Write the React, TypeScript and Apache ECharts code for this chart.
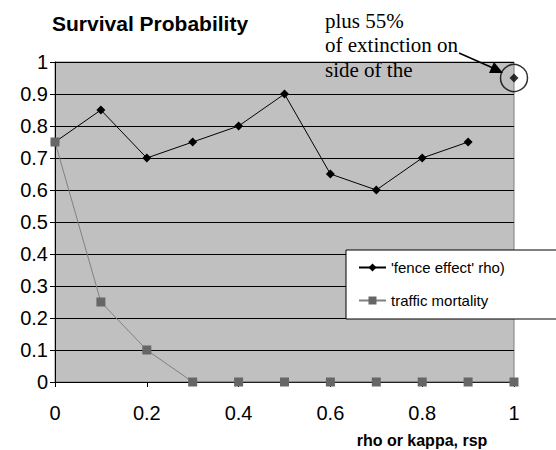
import React, { useEffect, useRef } from "react";
import * as echarts from "echarts";

const rhoValues = [0, 0.1, 0.2, 0.3, 0.4, 0.5, 0.6, 0.7, 0.8, 0.9];
const fenceEffect = [0.75, 0.85, 0.7, 0.75, 0.8, 0.9, 0.65, 0.6, 0.7, 0.75];
const trafficX = [0, 0.1, 0.2, 0.3, 0.4, 0.5, 0.6, 0.7, 0.8, 0.9, 1.0];
const trafficMortality = [0.75, 0.25, 0.1, 0, 0, 0, 0, 0, 0, 0, 0];
const extraPoint = [1.0, 0.95];
const annotationLines = ["plus 55%", "of extinction on", "side of the"];

export default function App() {
  const ref = useRef<HTMLDivElement>(null);
  useEffect(() => {
    document.body.style.margin = "0";
    const chart = echarts.init(ref.current!, null, { renderer: "svg" });
    const sans = "Liberation Sans, Arial, sans-serif";
    const serif = "Liberation Serif, Times New Roman, serif";
    chart.setOption({
      animation: false,
      title: {
        text: "Survival Probability",
        left: 52,
        top: 13,
        padding: 0,
        textStyle: { fontFamily: sans, fontSize: 21, fontWeight: "bold", color: "#000" },
      },
      grid: {
        left: 55,
        right: 42,
        top: 62,
        bottom: 68,
        show: true,
        backgroundColor: "#c0c0c0",
        borderColor: "#808080",
        borderWidth: 1,
      },
      legend: {
        data: ["'fence effect' rho)", "traffic mortality"],
        orient: "vertical",
        left: 346,
        top: 250,
        backgroundColor: "#fff",
        borderColor: "#000",
        borderWidth: 1,
        padding: [10, 120, 11, 12],
        itemWidth: 27,
        itemHeight: 10,
        itemGap: 18,
        textStyle: { fontFamily: sans, fontSize: 15, color: "#000" },
      },
      xAxis: {
        type: "value",
        min: 0,
        max: 1,
        interval: 0.2,
        axisLine: { show: true, lineStyle: { color: "#000" } },
        axisTick: { show: true, length: 5, lineStyle: { color: "#000" } },
        splitLine: { show: false },
        axisLabel: {
          fontFamily: sans,
          fontSize: 20,
          color: "#000",
          margin: 21,
          formatter: (v: number) => String(Math.round(v * 10) / 10),
        },
      },
      yAxis: {
        type: "value",
        min: 0,
        max: 1,
        interval: 0.1,
        axisLine: { show: true, lineStyle: { color: "#000" } },
        axisTick: { show: true, length: 5, lineStyle: { color: "#000" } },
        splitLine: { show: true, lineStyle: { color: "#000", width: 1 } },
        axisLabel: {
          fontFamily: sans,
          fontSize: 20,
          color: "#000",
          margin: 7,
          formatter: (v: number) => String(Math.round(v * 10) / 10),
        },
      },
      series: [
        {
          name: "'fence effect' rho)",
          type: "line",
          data: rhoValues.map((x, i) => [x, fenceEffect[i]]),
          symbol: "diamond",
          symbolSize: 9,
          lineStyle: { color: "#000", width: 1 },
          itemStyle: { color: "#000" },
        },
        {
          name: "traffic mortality",
          type: "line",
          data: trafficX.map((x, i) => [x, trafficMortality[i]]),
          symbol: "rect",
          symbolSize: 9,
          lineStyle: { color: "#808080", width: 1 },
          itemStyle: { color: "#666" },
        },
        {
          name: "extra",
          type: "scatter",
          data: [extraPoint],
          symbol: "diamond",
          symbolSize: 9,
          itemStyle: { color: "#000" },
        },
        {
          name: "circle",
          type: "scatter",
          data: [extraPoint],
          symbol: "circle",
          symbolSize: 27,
          itemStyle: { color: "rgba(0,0,0,0)", borderColor: "#000", borderWidth: 1.5 },
        },
      ],
      graphic: [
        ...annotationLines.map((t, i) => ({
          type: "text",
          left: 325,
          top: 10 + i * 24.5,
          z: 10,
          style: { text: t, font: `21px ${serif}`, fill: "#000" },
        })),
        {
          type: "line",
          z: 10,
          shape: { x1: 459, y1: 53, x2: 493, y2: 68 },
          style: { stroke: "#000", lineWidth: 1.5 },
        },
        {
          type: "polygon",
          z: 10,
          shape: { points: [[503, 73], [489, 73], [494, 62]] },
          style: { fill: "#000" },
        },
        {
          type: "text",
          x: 422,
          y: 432,
          style: { text: "rho or kappa, rsp", font: `bold 16px ${sans}`, fill: "#000", align: "center" },
        },
      ],
    });
    return () => chart.dispose();
  }, []);
  return <div ref={ref} style={{ width: 556, height: 450, position: "absolute", left: 0, top: 0 }} />;
}
